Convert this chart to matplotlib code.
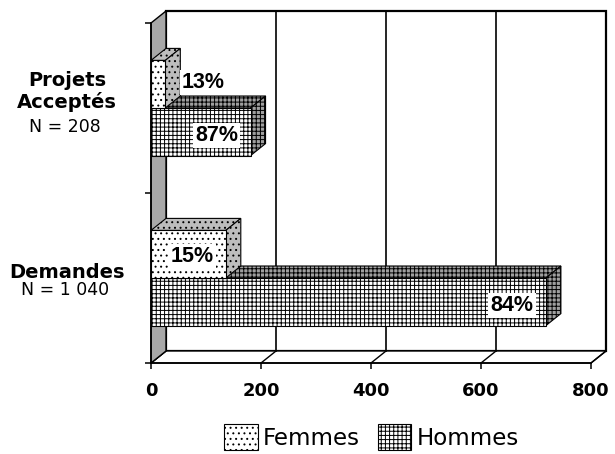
import matplotlib
matplotlib.use('Agg')
import matplotlib.pyplot as plt
from matplotlib.patches import Polygon, Rectangle, Patch

# ---- data ----
categories = ['Demandes', 'Projets\nAcceptés']
counts = ['N = 1 040', 'N = 208']
femmes = [136, 26]
hommes = [718, 181]
femmes_pct = ['15%', '13%']
hommes_pct = ['84%', '87%']
xticks = [0, 200, 400, 600, 800]
series_names = ['Femmes', 'Hommes']

plt.rcParams['hatch.linewidth'] = 0.7

W, H = 615, 454
fig = plt.figure(figsize=(W / 100, H / 100), dpi=100)
L, R, T, B = 151, 591, 23, 363
ax = fig.add_axes([L / W, 1 - B / H, (R - L) / W, (B - T) / H])
ax.set_xlim(0, 800)
ax.set_ylim(-0.5, 1.5)

px_x = 800 / (R - L)
px_y = 2 / (B - T)
dx = 15 * px_x
dy = 12 * px_y
h = 0.28
y0, y1 = ax.get_ylim()
x0, x1 = ax.get_xlim()

# back wall
ax.add_patch(Rectangle((dx, y0 + dy), x1 - x0, y1 - y0, facecolor='white',
                       edgecolor='black', lw=1.6, clip_on=False, zorder=0.5))
# floor
ax.add_patch(Polygon([(x0, y0), (x1, y0), (x1 + dx, y0 + dy), (dx, y0 + dy)],
                     closed=True, facecolor='white', edgecolor='black', lw=1.0,
                     clip_on=False, zorder=0.6))
# grid lines on back wall and floor
for t in xticks[1:-1]:
    ax.plot([t + dx, t + dx], [y0 + dy, y1 + dy], color='black', lw=1.2,
            clip_on=False, zorder=0.7)
for t in xticks:
    ax.plot([t, t + dx], [y0, y0 + dy], color='black', lw=1.0,
            clip_on=False, zorder=0.7)
# left wall
ax.add_patch(Polygon([(0, y0), (dx, y0 + dy), (dx, y1 + dy), (0, y1)], closed=True,
                     facecolor='#a8a8a8', edgecolor='black', lw=1.0,
                     clip_on=False, zorder=0.8))


def bar3d(ybase, value, hatch, side_color, z):
    ax.barh(ybase, value, height=h, align='edge', color='white', edgecolor='black',
            hatch=hatch, lw=0.8, zorder=z + 0.2)
    top = [(0, ybase + h), (value, ybase + h), (value + dx, ybase + h + dy), (dx, ybase + h + dy)]
    side = [(value, ybase), (value + dx, ybase + dy), (value + dx, ybase + h + dy), (value, ybase + h)]
    for pts in (top, side):
        ax.add_patch(Polygon(pts, closed=True, facecolor=side_color, edgecolor='black',
                             hatch=hatch, lw=0.8, zorder=z, clip_on=False))


def pct_label(ybase, value, text, yoff):
    if value / px_x > 45:
        xc = value - 34 * px_x
    else:
        xc = value + 38 * px_x
    ax.annotate(text, xy=(xc, ybase + h / 2), xytext=(0, yoff * 0.72),
                textcoords='offset points', ha='center', va='center',
                fontsize=15.5, fontweight='bold', family='Liberation Sans',
                bbox=dict(boxstyle='square,pad=0.1', facecolor='white', edgecolor='none'),
                zorder=10)


for i, c in enumerate(range(len(categories))):
    bar3d(c - h, hommes[i], '++++', '#a0a0a0', 2 + i * 2)
    bar3d(c, femmes[i], '...', '#bdbdbd', 3 + i * 2)
    pct_label(c - h, hommes[i], hommes_pct[i], -4)
    pct_label(c, femmes[i], femmes_pct[i], -2 if femmes[i] / px_x > 45 else 2)

# category labels
n_offsets = [17, 24.5]
for i, c in enumerate(range(len(categories))):
    lines = categories[i].split('\n')
    for j, line in enumerate(lines):
        k = len(lines) - 1 - j
        ax.annotate(line, xy=(0, c), xycoords=('axes fraction', 'data'),
                    xytext=(-84 * 0.72, 22 * k * 0.72), textcoords='offset points',
                    ha='center', va='baseline', fontsize=14, fontweight='bold',
                    family='DejaVu Sans')
    ax.annotate(counts[i], xy=(0, c), xycoords=('axes fraction', 'data'),
                xytext=(-86 * 0.72, -n_offsets[i] * 0.72), textcoords='offset points',
                ha='center', va='baseline', fontsize=12.5, family='DejaVu Sans')

# axes styling
for s in ('top', 'right'):
    ax.spines[s].set_visible(False)
for s in ('bottom', 'left'):
    ax.spines[s].set_linewidth(1.2)
    ax.spines[s].set_zorder(9)
ax.set_xticks(xticks)
ax.set_xticklabels([str(t) for t in xticks], fontsize=13, fontweight='bold',
                   family='DejaVu Sans')
ax.tick_params(axis='x', direction='out', length=4.5, width=1.1, pad=9.5)
ax.set_yticks([-0.5, 0.5, 1.5])
ax.set_yticklabels([])
ax.tick_params(axis='y', direction='out', length=4, width=1.1)

handles = [Patch(facecolor='white', edgecolor='black', hatch='...', label=series_names[0], lw=0.8),
           Patch(facecolor='white', edgecolor='black', hatch='++++', label=series_names[1], lw=0.8)]
fig.legend(handles=handles, loc='center', bbox_to_anchor=(0.604, 0.037), ncol=2,
           frameon=False, prop={'family': 'DejaVu Sans', 'size': 16.5},
           handlelength=1.45, handleheight=1.35, handletextpad=0.22, columnspacing=0.8,
           borderaxespad=0, borderpad=0)

fig.savefig('out.png', dpi=100, facecolor='white')
